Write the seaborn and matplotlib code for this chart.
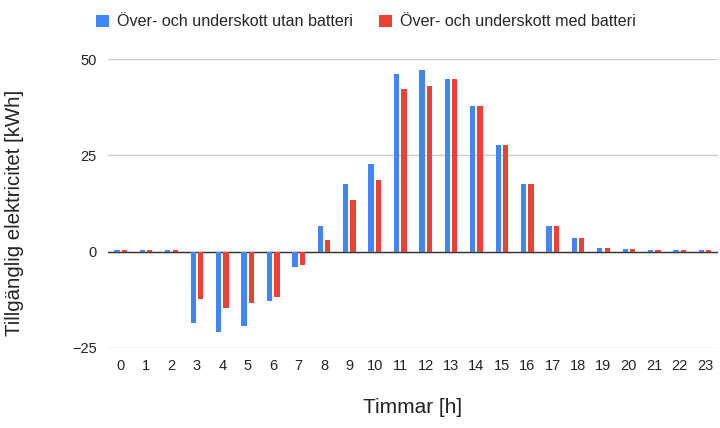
import pandas as pd
import numpy as np
import matplotlib.pyplot as plt
import seaborn as sns

hours = list(range(24))
utan_batteri = [0.4, 0.4, 0.4, -18.4, -20.8, -19.4, -12.7, -3.9, 6.6, 17.5, 22.7, 46.1,
                47.2, 44.8, 37.7, 27.8, 17.6, 6.7, 3.6, 1.0, 0.7, 0.4, 0.4, 0.4]
med_batteri = [0.4, 0.4, 0.4, -12.3, -14.7, -13.4, -11.7, -3.5, 2.9, 13.5, 18.7, 42.1,
               43.1, 44.8, 37.7, 27.8, 17.6, 6.7, 3.6, 1.0, 0.7, 0.4, 0.4, 0.4]
series_names = ["Över- och underskott utan batteri", "Över- och underskott med batteri"]


def main():
    df = pd.DataFrame({
        "Timme": hours * 2,
        "Värde": utan_batteri + med_batteri,
        "Serie": [series_names[0]] * 24 + [series_names[1]] * 24,
    })

    sns.set_style("white")
    plt.rcParams["font.family"] = ["Liberation Sans", "DejaVu Sans"]

    fig = plt.figure(figsize=(7.2, 4.28), dpi=100)
    ax = fig.add_axes([0.15, 0.187, 0.847, 0.675])

    palette = {series_names[0]: "#4285F4", series_names[1]: "#EA4335"}
    sns.barplot(data=df, x="Timme", y="Värde", hue="Serie", palette=palette,
                width=0.58, gap=0.28, saturation=1, linewidth=0, ax=ax, legend=True)
    for p in ax.patches:
        p.set_zorder(3)

    ax.set_ylim(-25, 50)
    ax.set_yticks([-25, 0, 25, 50])
    ax.set_xlim(-0.5, 23.5)
    ax.grid(axis="y", color="#cccccc", linewidth=1)
    ax.set_axisbelow(True)
    ax.axhline(0, color="#333333", linewidth=1.0, zorder=2)
    for s in ax.spines.values():
        s.set_visible(False)
    ax.tick_params(axis="both", length=0, labelsize=10.5, colors="#222222", pad=8)
    ax.set_xlabel("Timmar [h]", fontsize=15, color="#222222", labelpad=18)
    ax.set_ylabel("Tillgänglig elektricitet [kWh]", fontsize=14.7, color="#222222")
    ax.yaxis.set_label_coords(-0.138, 0.467)

    handles, labels = ax.get_legend_handles_labels()
    ax.legend_.remove()
    fig.legend(handles, labels, loc="center", bbox_to_anchor=(366 / 720, 1 - 22 / 428),
               ncol=2, frameon=False, fontsize=11.6,
               handlelength=0.8, handleheight=0.8, columnspacing=1.6, handletextpad=0.5)

    fig.savefig("out.png", dpi=100)


if __name__ == "__main__":
    main()
